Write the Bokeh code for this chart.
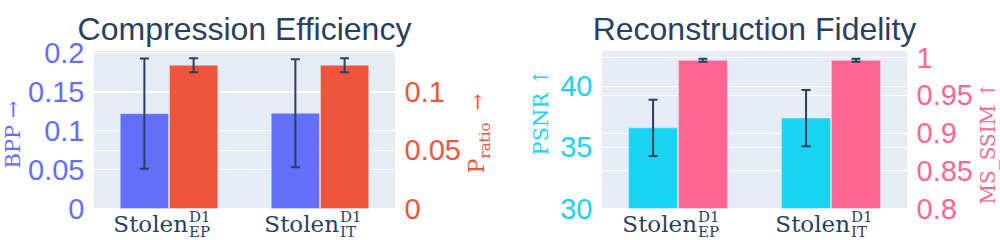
from math import pi
from bokeh.plotting import figure
from bokeh.layouts import row
from bokeh.models import (Range1d, LinearAxis, FixedTicker, Grid, ColumnDataSource,
                          Whisker, TeeHead, Label, NumeralTickFormatter, BoxAnnotation)
from bokeh.transform import dodge
from bokeh.embed import file_html
from bokeh.resources import INLINE

# ---------------- data ----------------
categories = ["Stolen_EP^D1", "Stolen_IT^D1"]
cat_base = ["Stolen", "Stolen"]
cat_sup = ["D1", "D1"]
cat_sub = ["EP", "IT"]

bpp = [0.122, 0.1225]
bpp_err = [0.071, 0.0695]
p_ratio = [0.1232, 0.1232]
p_ratio_err = [0.006, 0.006]
psnr = [36.6, 37.4]
psnr_err = [2.3, 2.3]
ms_ssim = [0.9967, 0.9967]
ms_ssim_err = [0.002, 0.002]

bpp_ticks = [0, 0.05, 0.1, 0.15, 0.2]
p_ratio_ticks = [0, 0.05, 0.1]
psnr_ticks = [30, 35, 40]
ms_ssim_ticks = [0.8, 0.85, 0.9, 0.95, 1.0]

bpp_range = (0, 0.2032)
p_ratio_range = (0, 0.1358)
psnr_range = (30, 42.93)
ms_ssim_range = (0.8, 1.0097)

# ---------------- style / layout ----------------
BLUE, RED, CYAN, PINK = "#636efa", "#EF553B", "#19d3f3", "#FF6692"
INK = "#2a3f5f"
BG = "#E5ECF6"
H = 240          # figure height
TOP = 50         # space for the title
HP = 158         # plot-area height
EXT = H - TOP - HP   # room below the plot area for the category labels
BAR_W = 0.32
OFF = 0.163
SERIF = "DejaVu Serif"
SANS = "Liberation Sans"


def ext(r):
    lo, hi = r
    return Range1d(lo - (hi - lo) * EXT / HP, hi)


def style_axis(ax, ticks, color):
    ax.ticker = FixedTicker(ticks=ticks)
    ax.formatter = NumeralTickFormatter(format="0.[00]")
    ax.axis_line_color = None
    ax.major_tick_line_color = None
    ax.minor_tick_line_color = None
    ax.major_label_standoff = 3
    ax.major_label_text_color = color
    ax.major_label_text_font = SANS
    ax.major_label_text_font_size = "29px"


def panel(title, width, bl, br, lv, le, rv, re_, lrange, rrange, lticks, rticks, lc, rc):
    n = len(categories)
    xs = list(range(n))
    src = ColumnDataSource(dict(
        x=xs, l=lv, lu=[v + e for v, e in zip(lv, le)], ll=[v - e for v, e in zip(lv, le)],
        r=rv, ru=[v + e for v, e in zip(rv, re_)], rl=[v - e for v, e in zip(rv, re_)]))
    p = figure(width=width, height=H, x_range=Range1d(-0.5, n - 0.5), y_range=ext(lrange),
               output_backend="svg", toolbar_location=None,
               min_border_left=bl, min_border_right=br, min_border_top=TOP, min_border_bottom=0)
    p.extra_y_ranges = {"right": ext(rrange)}
    p.background_fill_color = "white"
    p.border_fill_color = "white"
    p.outline_line_color = None
    p.add_layout(BoxAnnotation(left=-0.5, right=n - 0.5, bottom=lrange[0], top=lrange[1],
                               fill_color=BG, fill_alpha=1, line_color=None, level="image"))
    p.xaxis.visible = False
    p.xgrid.visible = False
    p.ygrid.ticker = FixedTicker(ticks=lticks)
    p.ygrid.grid_line_color = "white"
    p.ygrid.grid_line_width = 1
    p.add_layout(Grid(dimension=1, ticker=FixedTicker(ticks=rticks), y_range_name="right",
                      grid_line_color="white", grid_line_width=1))
    style_axis(p.yaxis[0], lticks, lc)
    rax = LinearAxis(y_range_name="right")
    style_axis(rax, rticks, rc)
    p.add_layout(rax, "right")

    p.title.text = title
    p.title.align = "center"
    p.title.text_font = SANS
    p.title.text_font_size = "32px"
    p.title.text_font_style = "normal"
    p.title.text_color = INK
    p.title.standoff = 8

    p.vbar(x=dodge("x", -OFF, range=p.x_range), top="l", bottom=lrange[0], width=BAR_W, source=src,
           fill_color=lc, line_color=BG, line_width=0.5)
    p.vbar(x=dodge("x", OFF, range=p.x_range), top="r", bottom=rrange[0], width=BAR_W, source=src,
           fill_color=rc, line_color=BG, line_width=0.5, y_range_name="right")
    for base, up, lo, yr in ((-OFF, "lu", "ll", "default"), (OFF, "ru", "rl", "right")):
        w = Whisker(source=src, base=dodge("x", base, range=p.x_range), upper=up, lower=lo,
                    dimension="height", line_color=INK, line_width=2, y_range_name=yr,
                    level="annotation",
                    upper_head=TeeHead(size=9, line_color=INK, line_width=2),
                    lower_head=TeeHead(size=9, line_color=INK, line_width=2))
        p.add_layout(w)

    # category labels  Stolen^{D1}_{XX}
    for i in xs:
        p.add_layout(Label(x=i, y=lrange[0], x_offset=19, y_offset=-15.6, text=cat_base[i],
                           text_align="right", text_baseline="alphabetic", text_color=INK,
                           text_font=SERIF, text_font_size="23px"))
        p.add_layout(Label(x=i, y=lrange[0], x_offset=20, y_offset=-8.2, text=cat_sup[i],
                           text_align="left", text_baseline="alphabetic", text_color=INK,
                           text_font=SERIF, text_font_size="15px"))
        p.add_layout(Label(x=i, y=lrange[0], x_offset=20, y_offset=-23.2, text=cat_sub[i],
                           text_align="left", text_baseline="alphabetic", text_color=INK,
                           text_font=SERIF, text_font_size="15px"))
    return p


def spacer(width, y_range):
    s = figure(width=width, height=H, x_range=Range1d(0, 1), y_range=y_range,
               x_axis_location=None, y_axis_location=None,
               output_backend="svg", toolbar_location=None,
               min_border_left=0, min_border_right=0, min_border_top=TOP, min_border_bottom=0)
    s.grid.visible = False
    s.outline_line_color = None
    s.background_fill_color = "white"
    s.border_fill_color = "white"
    return s


def vlabel(s, text, y0, xo, yo, color, size="20px"):
    s.add_layout(Label(x=0, y=y0, x_offset=xo, y_offset=yo, text=text, angle=pi / 2,
                       text_align="left", text_baseline="alphabetic", text_color=color,
                       text_font=SERIF, text_font_size=size))


p1 = panel("Compression Efficiency", 438, 60, 60, bpp, bpp_err, p_ratio, p_ratio_err,
           bpp_range, p_ratio_range, bpp_ticks, p_ratio_ticks, BLUE, RED)
p2 = panel("Reconstruction Fidelity", 418, 40, 60, psnr, psnr_err, ms_ssim, ms_ssim_err,
           psnr_range, ms_ssim_range, psnr_ticks, ms_ssim_ticks, CYAN, PINK)

# axis titles, in narrow side strips that share the panels' vertical scale
s0 = spacer(25, p1.y_range)
vlabel(s0, "BPP \u2192", bpp_range[0], 12.3, 40, BLUE, "21px")

s1 = spacer(94, p1.y_range)
vlabel(s1, "P", bpp_range[0], 13, 35, RED, "22px")
vlabel(s1, "ratio", bpp_range[0], 21.2, 50, RED, "15px")
vlabel(s1, "\u2192", bpp_range[0], 13.6, 98, RED, "20px")
vlabel(s1, "PSNR \u2191", bpp_range[0], 77, 53, CYAN, "21px")

s2 = spacer(25, p2.y_range)
vlabel(s2, "MS_SSIM \u2191", psnr_range[0], 12.6, 4, PINK, "20px")

layout = row(s0, p1, s1, p2, s2)
open("out.html", "w").write(file_html(layout, INLINE))
